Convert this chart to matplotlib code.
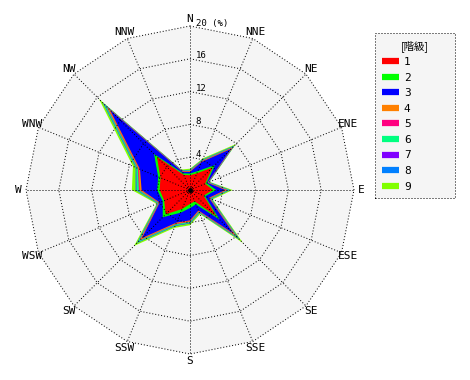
import numpy as np
import matplotlib
matplotlib.use("Agg")
import matplotlib.pyplot as plt
from matplotlib.lines import Line2D
from matplotlib.patches import Polygon

# ---- data -------------------------------------------------------------
directions = ["N", "NNE", "NE", "ENE", "E", "ESE", "SE", "SSE",
              "S", "SSW", "SW", "WSW", "W", "WNW", "NW", "NNW"]
classes = ["1", "2", "3", "4", "5", "6", "7", "8", "9"]
colors = ["#ff0000", "#00ff00", "#0000ff", "#ff8000", "#ff0080",
          "#00ff80", "#8000ff", "#0080ff", "#80ff00"]

# frequency (%) of each class per direction
class1 = [1.8, 2.2, 3.9, 2.0, 2.8, 1.8, 4.6, 1.5, 1.7, 2.5, 4.2, 3.4, 3.7, 3.9, 5.7, 2.0]
class2 = [0.2, 0.3, 0.4, 0.2, 0.4, 0.2, 0.5, 0.4, 0.5, 0.5, 0.5, 0.2, 0.3, 0.3, 0.5, 0.2]
class3 = [0.2, 1.2, 2.8, 0.1, 1.1, 0.5, 2.4, 0.8, 1.5, 1.3, 3.6, 0.4, 1.9, 2.4, 7.6, 0.2]
class4 = [0.08, 0.1, 0.16, 0.06, 0.18, 0.1, 0.32, 0.1, 0.12, 0.14, 0.26, 0.08, 0.22, 0.18, 0.38, 0.06]
class5 = [0.04, 0.05, 0.08, 0.03, 0.09, 0.05, 0.16, 0.05, 0.06, 0.07, 0.13, 0.04, 0.11, 0.09, 0.19, 0.03]
class6 = [0.1, 0.12, 0.2, 0.08, 0.22, 0.12, 0.4, 0.12, 0.15, 0.18, 0.32, 0.1, 0.3, 0.22, 0.48, 0.08]
class7 = [0.02, 0.02, 0.04, 0.02, 0.04, 0.02, 0.08, 0.02, 0.03, 0.04, 0.06, 0.02, 0.06, 0.04, 0.1, 0.02]
class8 = [0.02, 0.03, 0.04, 0.01, 0.05, 0.03, 0.08, 0.03, 0.03, 0.03, 0.07, 0.02, 0.05, 0.05, 0.09, 0.01]
class9 = [0.14, 0.18, 0.3, 0.1, 0.32, 0.18, 0.6, 0.18, 0.21, 0.24, 0.5, 0.14, 0.45, 0.35, 0.66, 0.1]

ring_values = [4, 8, 12, 16, 20]
ring_labels = ["4", "8", "12", "16", "20 (%)"]

series = [class1, class2, class3, class4, class5, class6, class7, class8, class9]
cum = np.cumsum(np.array(series), axis=0)

# ---- geometry ---------------------------------------------------------
W, H = 470, 380
scale = 8.2      # px per %
cx, cy = 190, 190
theta = np.deg2rad(np.arange(len(directions)) * 360.0 / len(directions))


def to_xy(r):
    r = np.asarray(r, dtype=float)
    return r * np.sin(theta), r * np.cos(theta)


fig = plt.figure(figsize=(W / 100, H / 100), dpi=100)
ax = fig.add_axes([0, 0, 1, 1])
ax.set_xlim(-cx / scale, (W - cx) / scale)
ax.set_ylim(-(H - cy) / scale, cy / scale)
ax.axis("off")

mono = "DejaVu Sans Mono"
dot = (0, (1, 2))
lw = 0.72

# background disk (16-gon)
bx, by = to_xy(np.full(len(directions), 20.0))
ax.add_patch(Polygon(np.column_stack([bx, by]), closed=True,
                     facecolor="#f5f5f5", edgecolor="none", zorder=0))

# stacked polygons, outermost first
for k in range(len(classes) - 1, -1, -1):
    x, y = to_xy(cum[k])
    ax.fill(x, y, color=colors[k], linewidth=0, zorder=2 + (8 - k) * 0.01)

# grid rings and spokes
for rv in ring_values:
    x, y = to_xy(np.full(len(directions), rv))
    ax.plot(np.append(x, x[0]), np.append(y, y[0]), color="black",
            linestyle=dot, linewidth=lw, zorder=5)
for t in theta:
    ax.plot([0, 20 * np.sin(t)], [0, 20 * np.cos(t)], color="black",
            linestyle=dot, linewidth=lw, zorder=5)
ax.plot([0], [0], "o", color="black", markersize=2.5, zorder=6)

# ring labels
for rv, lab in zip(ring_values, ring_labels):
    ax.text(0.7, rv + 0.35, lab, fontsize=6.5, family=mono,
            ha="left", va="center", zorder=7)

# direction labels
for d, t in zip(directions, theta):
    R = 20.9
    ax.text(R * np.sin(t), R * np.cos(t), d, fontsize=8, family=mono,
            ha="center", va="center", zorder=7)

# legend
handles = [Line2D([], [], color=c, linewidth=4.5, solid_capstyle="butt")
           for c in colors]
leg = ax.legend(handles, classes, loc="upper left",
                bbox_to_anchor=(375 / W, 1 - 33 / H, 80 / W, 0.0),
                bbox_transform=fig.transFigure, mode="expand",
                borderaxespad=0, fancybox=False, framealpha=1,
                title="[階級]", handlelength=1.6, handletextpad=0.4,
                labelspacing=0.5, borderpad=0.6,
                prop={"family": mono, "size": 8},
                title_fontproperties={"family": ["Noto Sans CJK JP", "DejaVu Sans"],
                                      "size": 7.5})
frame = leg.get_frame()
frame.set_linestyle(dot)
frame.set_linewidth(lw)
frame.set_edgecolor("black")
frame.set_facecolor("#f5f5f5")

fig.savefig("out.png", dpi=100)
